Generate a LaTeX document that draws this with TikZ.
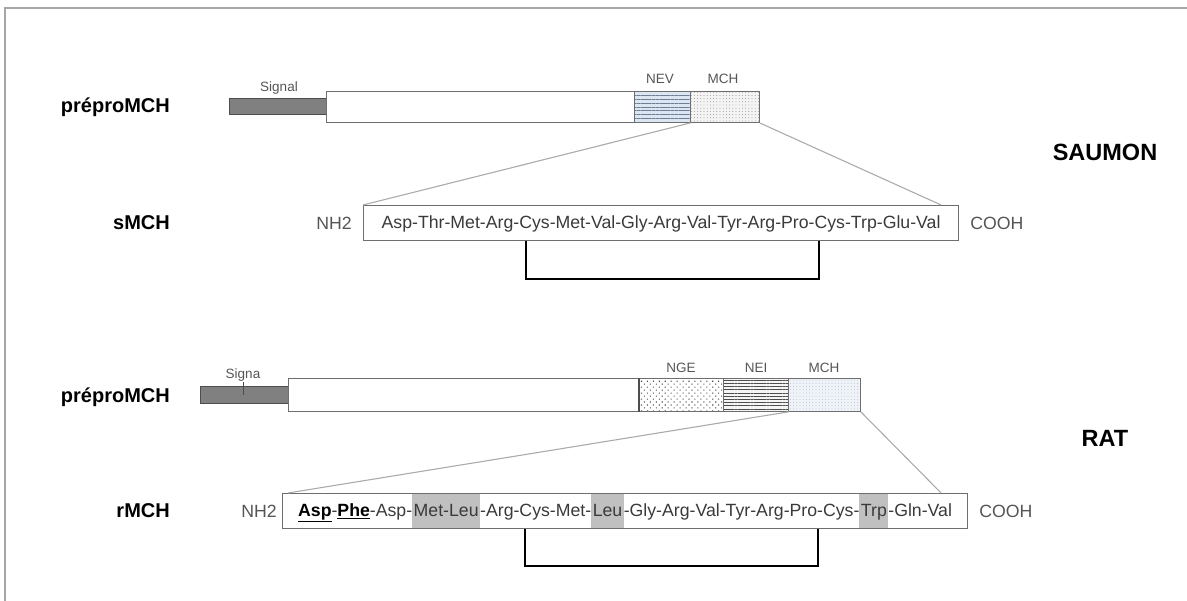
\documentclass[tikz,border=0pt]{standalone}
\usepackage{fontspec}
\setmainfont{Liberation Sans}
\usetikzlibrary{positioning,patterns.meta}

\definecolor{framegray}{HTML}{A6A6A6}
\definecolor{boxgray}{HTML}{6E6E6E}
\definecolor{siggray}{HTML}{808080}
\definecolor{sigline}{HTML}{4D4D4D}
\definecolor{linegray}{HTML}{ABABAB}
\definecolor{labgray}{HTML}{555555}
\definecolor{seqtext}{HTML}{3A3A3A}
\definecolor{nevfill}{HTML}{DCE6F2}
\definecolor{nevline}{HTML}{6F7F93}
\definecolor{mchfill}{HTML}{F4F4F4}
\definecolor{rmchfill}{HTML}{EEF3F9}
\definecolor{hlgray}{HTML}{C0C0C0}

\newcommand\seqstrut{\rule[-11.5pt]{0pt}{33.5pt}}
\newcommand\hlres[1]{{\setlength\fboxsep{0pt}\colorbox{hlgray}{\seqstrut\kern1.5pt#1\kern1.5pt}}}
\newcommand\keyres[1]{{\color{black}\underline{\textbf{#1}}}}

\begin{document}
\begin{tikzpicture}[
  x=1pt, y=-1pt,
  font=\fontsize{17.7}{20}\selectfont,
  segbox/.style={draw=boxgray, line width=1.1pt, anchor=north west, inner sep=0pt},
  sigbar/.style={draw=sigline, fill=siggray, line width=1pt, anchor=north west, inner sep=0pt},
  seqbox/.style={draw=boxgray, line width=1.1pt, anchor=north west, inner xsep=0pt, inner ysep=0.75pt, minimum height=35pt, text=seqtext},
  termlab/.style={inner sep=0pt, text=labgray},
  seglab/.style={inner sep=0pt, anchor=base, text=labgray, font=\fontsize{13.5}{15}\selectfont},
  namelab/.style={inner sep=0pt, anchor=base east, font=\fontsize{20}{24}\selectfont\bfseries},
  specieslab/.style={inner sep=0pt, font=\fontsize{23.5}{28}\selectfont\bfseries},
  zoomline/.style={draw=linegray, line width=1.1pt},
  bond/.style={draw=black, line width=2.2pt}
]
\useasboundingbox (0,0) rectangle (1187,601);
\draw[framegray, line width=2pt] (1187,8) -- (5,8) -- (5,601);

% saumon
\node[namelab] (sprepro) at (170,113) {préproMCH};
\node[sigbar, minimum width=97pt, minimum height=16pt] (ssig) at (229,98) {};
\node[segbox, minimum width=308pt, minimum height=31pt] (spro) at (326,91) {};
\node[segbox, minimum width=56pt, minimum height=31pt, preaction={fill=nevfill},
  pattern={Lines[angle=0, distance=3.8pt, line width=0.8pt]}, pattern color=nevline] (snev) at (634,91) {};
\node[segbox, minimum width=69pt, minimum height=31pt, preaction={fill=mchfill},
  pattern={Dots[distance=3.2pt, radius=0.45pt]}, pattern color=gray] (smch) at (690,91) {};
\node[seglab] (ssiglab) at (279,92) {Signal};
\node[seglab] (snevlab) at (660,84) {NEV};
\node[seglab] (smchlab) at (723,84) {MCH};

\node[specieslab] (saumon) at (1105,152) {SAUMON};

\node[namelab] (sname) at (170,230) {sMCH};
\node[seqbox, minimum width=595pt] (sseq) at (363,205)
  {\seqstrut Asp-Thr-Met-Arg-Cys-Met-Val-Gly-Arg-Val-Tyr-Arg-Pro-Cys-Trp-Glu-Val};
\node[termlab, left=11pt of sseq] (snh) {NH2};
\node[termlab, right=11pt of sseq] (scooh) {COOH};

\coordinate (send) at ([xshift=-18pt]sseq.north east);
\draw[zoomline] (snev.south east) -- (sseq.north west);
\draw[zoomline] (smch.south east) -- (send);

\coordinate (sbl) at ([xshift=163pt]sseq.south west);
\coordinate (sbr) at ([xshift=456pt]sseq.south west);
\draw[bond] (sbl) -- ++(0,38) -| (sbr);

% rat
\node[namelab] (rprepro) at (170,403) {préproMCH};
\node[sigbar, minimum width=88pt, minimum height=17pt] (rsig) at (200,386) {};
\node[segbox, minimum width=351pt, minimum height=33pt] (rpro) at (288,378) {};
\node[segbox, minimum width=84pt, minimum height=33pt, preaction={fill=white},
  pattern={Dots[angle=45, distance=4.2pt, radius=0.75pt]}, pattern color=sigline] (rnge) at (639,378) {};
\node[segbox, minimum width=65pt, minimum height=33pt, preaction={fill=mchfill},
  pattern={Lines[angle=0, distance=3.2pt, line width=0.8pt]}, pattern color=sigline] (rnei) at (723,378) {};
\node[segbox, minimum width=72pt, minimum height=33pt, preaction={fill=rmchfill},
  pattern={Dots[distance=3.2pt, radius=0.4pt]}, pattern color=linegray] (rmch) at (788,378) {};
\draw[sigline, line width=2.4pt] (rnge.north west) -- (rnge.south west);
\node[seglab] (rsiglab) at (243,379) {Signa};
\node[seglab] (rngelab) at (681,373) {NGE};
\node[seglab] (rneilab) at (756,373) {NEI};
\node[seglab] (rmchlab) at (824,373) {MCH};
\draw[sigline, line width=1pt] (rsiglab.south) -- (rsiglab.south |- rsig.center);

\node[specieslab] (rat) at (1105,438) {RAT};

\node[namelab] (rname) at (170,518) {rMCH};
\node[seqbox, minimum width=685pt] (rseq) at (282,493)
  {\seqstrut\keyres{Asp}-\keyres{Phe}-Asp-\hlres{Met-Leu}-Arg-Cys-Met-\hlres{Leu}-Gly-Arg-Val-Tyr-Arg-Pro-Cys-\hlres{Trp}-Gln-Val};
\node[termlab, left=5pt of rseq] (rnh) {NH2};
\node[termlab, right=11pt of rseq] (rcooh) {COOH};

\coordinate (rstart) at ([xshift=6pt]rseq.north west);
\coordinate (rend) at ([xshift=-27pt]rseq.north east);
\draw[zoomline] (rnei.south east) -- (rstart);
\draw[zoomline] (rmch.south east) -- (rend);

\coordinate (rbl) at ([xshift=243pt]rseq.south west);
\coordinate (rbr) at ([xshift=536pt]rseq.south west);
\draw[bond] (rbl) -- ++(0,37) -| (rbr);
\end{tikzpicture}
\end{document}
